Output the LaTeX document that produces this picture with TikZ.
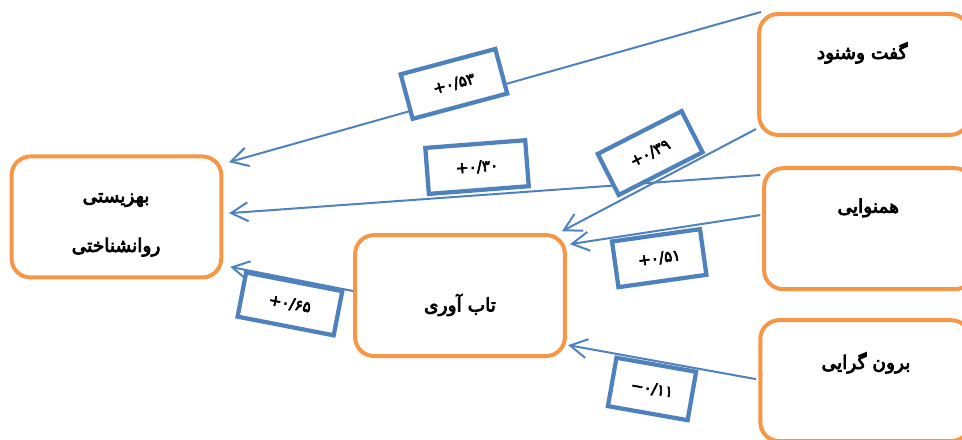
\documentclass[tikz,border=0pt]{standalone}
\usepackage{fontspec}
\newfontfamily\persianfont[Script=Arabic,FakeBold=4]{DejaVu Sans}
\newfontfamily\digitfont[Script=Latin,FakeBold=4]{DejaVu Sans}
\TeXXeTstate=1
\usetikzlibrary{arrows.meta}
\usetikzlibrary{calc}
\usetikzlibrary{positioning}
\tikzset{>={Straight Barb[length=4.5mm,width=5mm]}}
\definecolor{linkblue}{RGB}{79,129,189}
\definecolor{boxorange}{RGB}{247,150,70}
\tikzstyle{varbox}=[draw=boxorange,line width=3pt,rounded corners=5mm,minimum width=5.55cm,minimum height=3.2cm,fill=white]
\tikzstyle{vartext}=[font=\persianfont\fontsize{14}{16}\selectfont,align=center]
\tikzstyle{coefbox}=[draw=linkblue,line width=3.2pt,fill=white,minimum height=1.22cm,font=\digitfont\fontsize{11.5}{13}\selectfont]
\tikzstyle{bluelink}=[draw=linkblue,line width=1.5pt,->]

\begin{document}
\begin{tikzpicture}
  \useasboundingbox (0,0) rectangle (25.45,-11.615);
  % variables
  \node[varbox] (wellbeing) at (3.08,-5.74) {};
  \node[varbox] (resilience) at (12.17,-7.82) {};
  \node[varbox] (talk) at (22.86,-1.97) {};
  \node[varbox] (harmony) at (22.99,-6.05) {};
  \node[varbox] (extraversion) at (22.89,-10.07) {};
  \node[vartext] (wellbeingtext) at (3.07,-5.95) {\beginR بهزیستی\endR\\[0.75cm]\beginR روانشناختی\endR};
  \node[vartext] (resiliencetext) at (12.17,-8.07) {\beginR تاب آوری\endR};
  \node[vartext] (talktext) at (22.81,-1.40) {\beginR گفت وشنود\endR};
  \node[vartext] (harmonytext) at (22.97,-5.50) {\beginR همنوایی\endR};
  \node[vartext] (extraversiontext) at (22.91,-9.60) {\beginR برون گرایی\endR};

  % paths
  \draw[bluelink] ([xshift=0.1cm]talk.north west) -- ([shift={(0.15,1.45)}]wellbeing.east);
  \draw[bluelink] ([shift={(-0.05,1.42)}]harmony.west) -- ([shift={(0.15,0.10)}]wellbeing.east);
  \draw[bluelink] ([shift={(0,0.12)}]resilience.west) -- ([shift={(0.18,-1.32)}]wellbeing.east);
  \draw[bluelink] ([shift={(-0.03,0.21)}]talk.south west) -- ([shift={(-0.13,0.05)}]resilience.north east);
  \draw[bluelink] ([shift={(-0.05,0.36)}]harmony.west) -- ([shift={(0.08,1.36)}]resilience.east);
  \draw[bluelink] ([shift={(-0.06,0.04)}]extraversion.west) -- ([shift={(0.03,-1.31)}]resilience.east);

  % coefficients
  \node[coefbox,minimum width=2.59cm,rotate=15] (coef53) at (12.01,-2.22) {+۰/۵۳};
  \node[coefbox,minimum width=2.65cm,rotate=4.4] (coef30) at (12.62,-4.42) {+۰/۳۰};
  \node[coefbox,minimum width=2.49cm,rotate=27] (coef39) at (17.20,-4.05) {+۰/۳۹};
  \node[coefbox,minimum width=2.35cm,rotate=8] (coef51) at (17.44,-6.83) {+۰/۵۱};
  \node[coefbox,minimum width=2.14cm,minimum height=1.3cm,rotate=-10] (coef11) at (17.25,-10.29) {−۰/۱۱};
  \node[coefbox,minimum width=2.59cm,minimum height=1.19cm,rotate=-11] (coef65) at (7.67,-8.04) {+۰/۶۵};
\end{tikzpicture}
\end{document}
